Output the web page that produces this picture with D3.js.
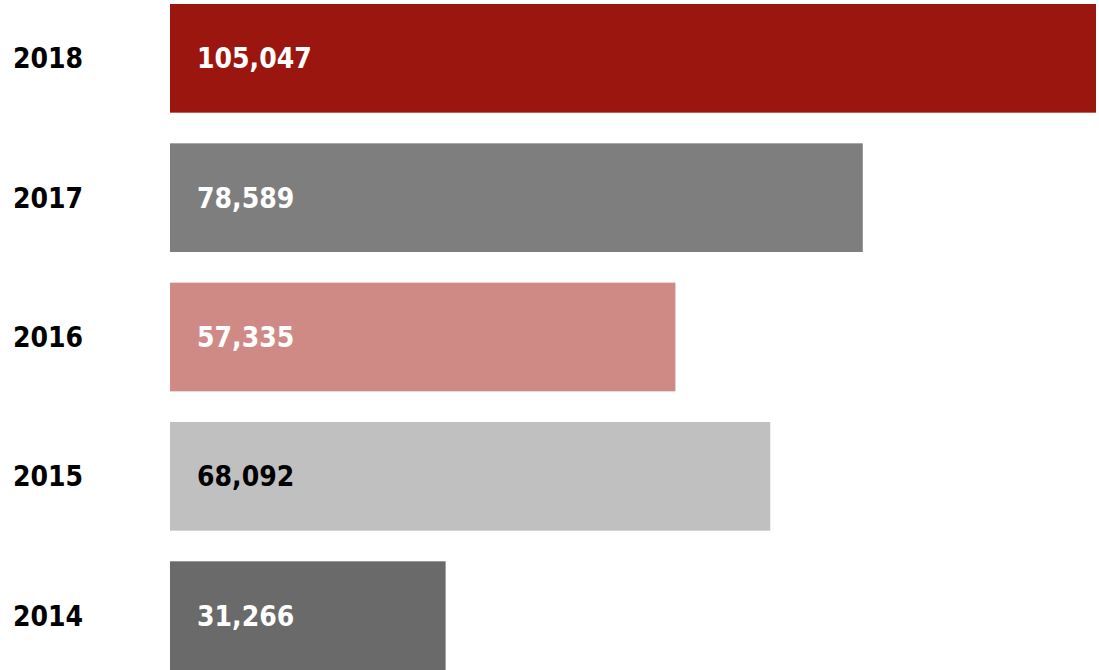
<!DOCTYPE html>
<html><head><meta charset="utf-8">
<script src="https://cdn.jsdelivr.net/npm/d3@7"></script>
<style>body{margin:0;background:#fff}svg{display:block}text{font-family:"DejaVu Sans Condensed","DejaVu Sans",sans-serif;font-weight:bold}</style>
</head><body><svg id="c" width="1099" height="670"></svg>
<script>
const years = ["2018","2017","2016","2015","2014"];
const values = [105047, 78589, 57335, 68092, 31266];
const barColors = ["#9c1610","#7e7e7e","#cf8a86","#c0c0c0","#6a6a6a"];
const labelColors = ["#fff","#fff","#fff","#000","#fff"];

const data = years.map((y,i)=>({year:y,value:values[i],color:barColors[i],label:labelColors[i]}));
const svg = d3.select("#c");
const x = d3.scaleLinear().domain([0, d3.max(values)]).range([170, 1096]);
const y = d3.scaleBand().domain(years).range([4, 670]).paddingInner(0.22).paddingOuter(0);
const fmt = d3.format(",");

svg.selectAll("rect").data(data).join("rect")
  .attr("x", x(0)).attr("y", d=>y(d.year))
  .attr("width", d=>x(d.value)-x(0)).attr("height", y.bandwidth())
  .attr("fill", d=>d.color);

svg.selectAll("text.v").data(data).join("text").attr("class","v")
  .attr("x", x(0)+27).attr("y", d=>y(d.year)+y.bandwidth()/2)
  .attr("dy","0.36em").attr("font-size",28).attr("fill",d=>d.label)
  .text(d=>fmt(d.value));

svg.selectAll("text.y").data(data).join("text").attr("class","y")
  .attr("x", 13).attr("y", d=>y(d.year)+y.bandwidth()/2)
  .attr("dy","0.36em").attr("font-size",28).attr("fill","#000")
  .text(d=>d.year);
</script></body></html>
